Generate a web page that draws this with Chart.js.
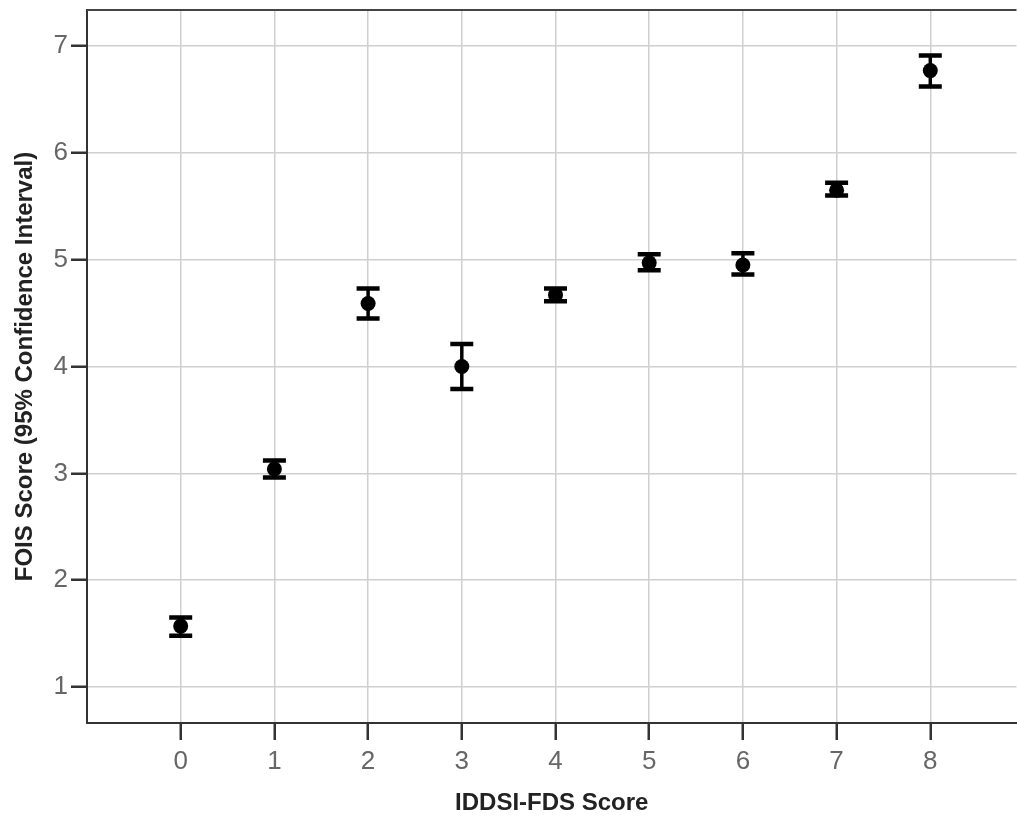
<!DOCTYPE html>
<html>
<head>
<meta charset="utf-8">
<script src="https://cdn.jsdelivr.net/npm/chart.js@4.4.1/dist/chart.umd.min.js"></script>
<style>
html, body { margin: 0; padding: 0; overflow: hidden; background: #fff; }
canvas { display: block; }
</style>
</head>
<body>
<canvas id="c" width="1024" height="819" style="width:1024px;height:819px"></canvas>
<script>
// IDDSI-FDS score categories
const categories = [0, 1, 2, 3, 4, 5, 6, 7, 8];
// Mean FOIS score per category
const meanValues = [1.57, 3.04, 4.59, 4.00, 4.67, 4.97, 4.95, 5.65, 6.77];
// 95% CI upper and lower bounds
const upperValues = [1.65, 3.12, 4.73, 4.21, 4.73, 5.05, 5.06, 5.72, 6.91];
const lowerValues = [1.48, 2.96, 4.45, 3.79, 4.61, 4.90, 4.86, 5.60, 6.62];
// Tick labels
const xTicks = [0, 1, 2, 3, 4, 5, 6, 7, 8];
const yTicks = [1, 2, 3, 4, 5, 6, 7];

const points = categories.map((c, i) => ({ x: c, y: meanValues[i] }));

const errorBarPlugin = {
  id: 'errorBars',
  beforeDatasetsDraw(chart) {
    const ctx = chart.ctx;
    const xs = chart.scales.x, ys = chart.scales.y;
    ctx.save();
    ctx.strokeStyle = '#000';
    ctx.lineCap = 'butt';
    categories.forEach((c, i) => {
      const px = xs.getPixelForValue(c);
      const pu = ys.getPixelForValue(upperValues[i]);
      const pl = ys.getPixelForValue(lowerValues[i]);
      ctx.lineWidth = 3.5;
      ctx.beginPath();
      ctx.moveTo(px, pu);
      ctx.lineTo(px, pl);
      ctx.stroke();
      ctx.lineWidth = 4.5;
      ctx.beginPath();
      ctx.moveTo(px - 11.5, pu);
      ctx.lineTo(px + 11.5, pu);
      ctx.moveTo(px - 11.5, pl);
      ctx.lineTo(px + 11.5, pl);
      ctx.stroke();
    });
    ctx.restore();
  },
  afterDraw(chart) {
    const ctx = chart.ctx;
    const a = chart.chartArea;
    ctx.save();
    ctx.strokeStyle = '#444';
    ctx.lineWidth = 2;
    ctx.beginPath();
    ctx.moveTo(a.left, a.top);
    ctx.lineTo(a.right, a.top);
    ctx.stroke();
    ctx.restore();
  }
};

new Chart(document.getElementById('c'), {
  type: 'scatter',
  data: {
    datasets: [{
      data: points,
      backgroundColor: '#000',
      borderColor: '#000',
      pointRadius: 7.5,
      pointHoverRadius: 7.5,
      borderWidth: 0
    }]
  },
  options: {
    responsive: false,
    maintainAspectRatio: false,
    devicePixelRatio: 1,
    animation: false,
    events: [],
    layout: { padding: { top: 10, left: 0, right: 0, bottom: 0 } },
    plugins: {
      legend: { display: false },
      tooltip: { enabled: false }
    },
    scales: {
      x: {
        type: 'linear',
        min: -1,
        max: 8.92,
        afterBuildTicks(scale) { scale.ticks = xTicks.map(v => ({ value: v })); },
        afterFit(scale) { scale.height = 96; scale.paddingLeft = 0; scale.paddingRight = 0; },
        border: { color: '#333', width: 2 },
        grid: {
          color: '#cfcfcf',
          lineWidth: 1.5,
          drawTicks: true,
          tickLength: 17,
          tickColor: '#333',
          tickWidth: 2.5
        },
        ticks: {
          color: '#666',
          padding: 6,
          font: { family: "'Liberation Sans', Arial, sans-serif", size: 26 },
          callback: v => String(v)
        },
        title: {
          display: true,
          text: 'IDDSI-FDS Score',
          color: '#222',
          font: { family: "'Liberation Sans', Arial, sans-serif", size: 24, weight: 'bold', lineHeight: '32px' },
          padding: 0
        }
      },
      y: {
        type: 'linear',
        min: 0.663,
        max: 7.337,
        afterBuildTicks(scale) { scale.ticks = yTicks.map(v => ({ value: v })); },
        afterFit(scale) { scale.width = 87; scale.paddingTop = 0; scale.paddingBottom = 0; },
        border: { color: '#333', width: 2 },
        grid: {
          color: '#cfcfcf',
          lineWidth: 1.5,
          drawTicks: true,
          tickLength: 16,
          tickColor: '#333',
          tickWidth: 2.5
        },
        ticks: {
          color: '#666',
          padding: 3,
          font: { family: "'Liberation Sans', Arial, sans-serif", size: 26 },
          callback: v => String(v)
        },
        title: {
          display: true,
          text: 'FOIS Score (95% Confidence Interval)',
          color: '#222',
          font: { family: "'Liberation Sans', Arial, sans-serif", size: 24, weight: 'bold', lineHeight: '50px' },
          padding: 0
        }
      }
    }
  },
  plugins: [errorBarPlugin]
});
</script>
</body>
</html>
